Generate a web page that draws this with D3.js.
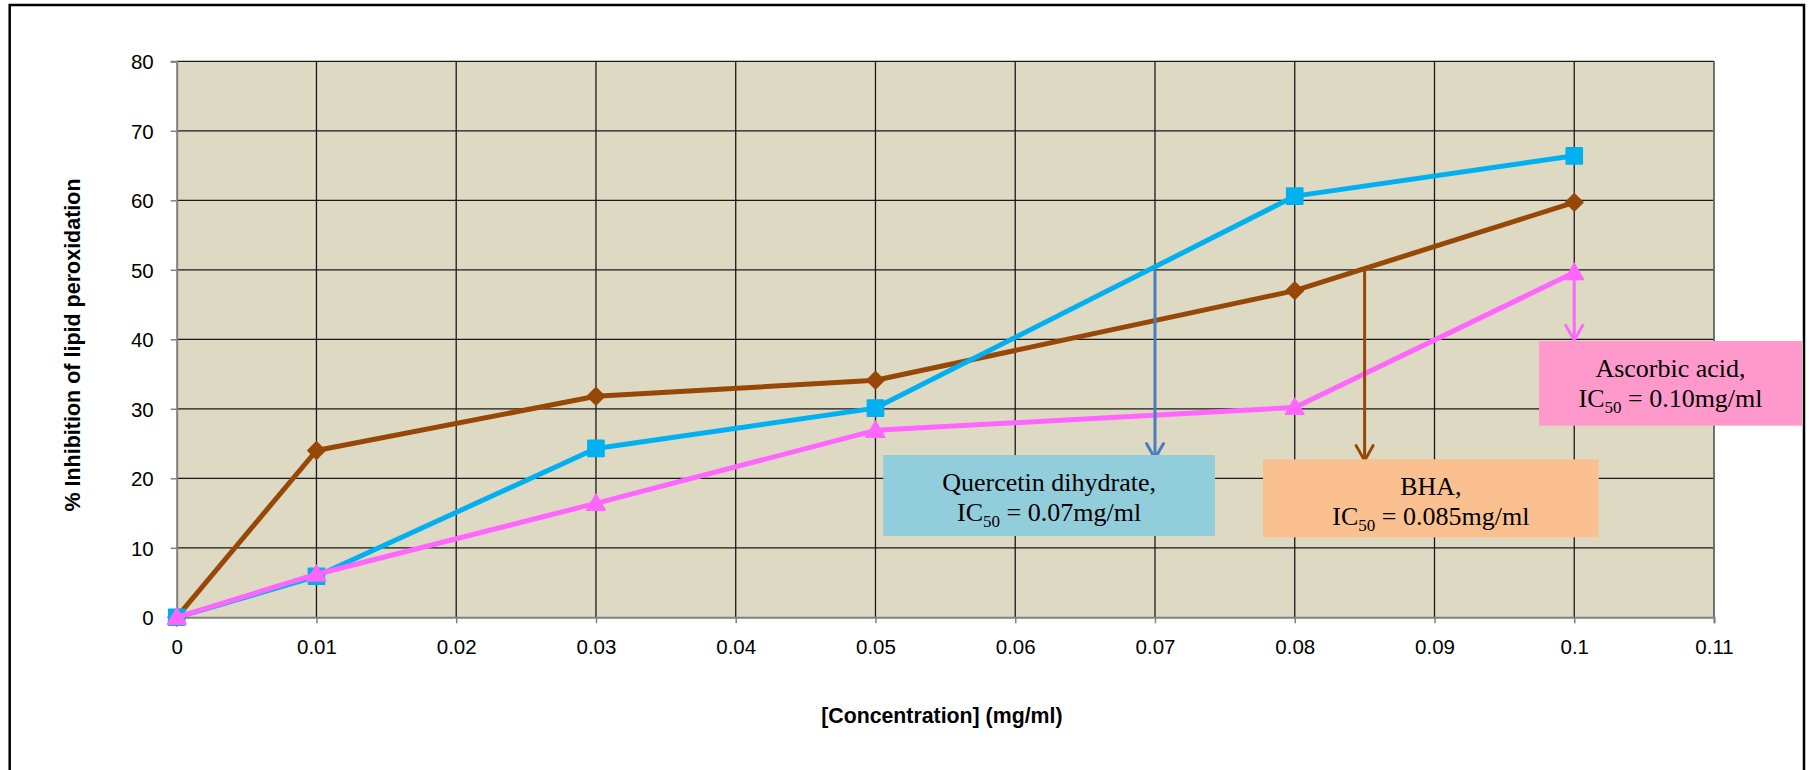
<!DOCTYPE html>
<html>
<head>
<meta charset="utf-8">
<script src="https://cdn.jsdelivr.net/npm/d3@7"></script>
<style>
  html, body { margin: 0; padding: 0; background: #ffffff; }
  svg { display: block; }
</style>
</head>
<body>
<svg id="chart" width="1811" height="770"></svg>
<script>
// Concentrations tested (mg/ml)
const concentration = [0, 0.01, 0.03, 0.05, 0.08, 0.1];

// % inhibition of lipid peroxidation for each compound
const bha       = [0, 24.0, 31.8, 34.1, 47.0, 59.7];
const quercetin = [0, 5.9, 24.3, 30.1, 60.6, 66.4];
const ascorbic  = [0, 6.2, 16.4, 26.9, 30.2, 49.6];

// Axis ticks
const xTicks = [0, 0.01, 0.02, 0.03, 0.04, 0.05, 0.06, 0.07, 0.08, 0.09, 0.1, 0.11];
const yTicks = [0, 10, 20, 30, 40, 50, 60, 70, 80];
const xTickLabels = ["0", "0.01", "0.02", "0.03", "0.04", "0.05", "0.06", "0.07", "0.08", "0.09", "0.1", "0.11"];

// IC50 read-offs: concentration, start (50 %) and arrow tip level
const ic50Conc  = [0.07, 0.085, 0.10];
const ic50From  = [50, 50, 49.6];
const ic50To    = [22.7, 22.4, 39.7];
const ic50Names = ["Quercetin dihydrate,", "BHA,", "Ascorbic acid,"];
const ic50Text  = ["0.07mg/ml", "0.085mg/ml", "0.10mg/ml"];

const svg = d3.select("#chart");

// Plot area
const plot = { left: 176.7, right: 1714, top: 61.3, bottom: 617.3 };
const x = d3.scaleLinear().domain([0, 0.11]).range([plot.left, plot.right]);
const y = d3.scaleLinear().domain([0, 80]).range([plot.bottom, plot.top]);

// Outer frame of the chart
svg.append("rect")
  .attr("x", 9.7).attr("y", 5)
  .attr("width", 1794.3).attr("height", 800)
  .attr("fill", "none").attr("stroke", "#000").attr("stroke-width", 2.5);

// Background
svg.append("rect")
  .attr("x", plot.left).attr("y", plot.top)
  .attr("width", plot.right - plot.left).attr("height", plot.bottom - plot.top)
  .attr("fill", "#ddd9c3");

// Grid lines
const grid = svg.append("g").attr("stroke", "#1a1a1a").attr("stroke-width", 1.3);
grid.selectAll("line.v").data(xTicks.slice(1)).join("line")
  .attr("x1", d => x(d)).attr("x2", d => x(d))
  .attr("y1", plot.top).attr("y2", plot.bottom);
grid.selectAll("line.h").data(yTicks.slice(1)).join("line")
  .attr("x1", plot.left).attr("x2", plot.right)
  .attr("y1", d => y(d)).attr("y2", d => y(d));

// Right edge of the plot area
svg.append("line")
  .attr("x1", plot.right).attr("x2", plot.right)
  .attr("y1", plot.top).attr("y2", plot.bottom)
  .attr("stroke", "#777").attr("stroke-width", 1.5);

// Axes
const xAxis = d3.axisBottom(x).tickValues(xTicks)
  .tickFormat((d, i) => xTickLabels[i]).tickSize(6).tickPadding(16);
const yAxis = d3.axisLeft(y).tickValues(yTicks)
  .tickFormat(d => d).tickSize(6).tickPadding(17);

const gx = svg.append("g").attr("transform", `translate(0,${plot.bottom})`).call(xAxis);
const gy = svg.append("g").attr("transform", `translate(${plot.left},0)`).call(yAxis);

[gx, gy].forEach(g => {
  g.select(".domain").attr("stroke", "#808080").attr("stroke-width", 2);
  g.selectAll(".tick line").attr("stroke", "#808080").attr("stroke-width", 1.5);
  g.selectAll(".tick text")
    .attr("fill", "#000")
    .style("font-family", "'Liberation Sans', Arial, sans-serif")
    .style("font-size", "20.5px");
});
gy.selectAll(".tick text").attr("dy", "0.36em");

// Axis titles
svg.append("text")
  .attr("x", (plot.left + plot.right) / 2 - 3.5)
  .attr("y", 723)
  .attr("text-anchor", "middle")
  .style("font-family", "'Liberation Sans', Arial, sans-serif")
  .style("font-weight", "bold")
  .style("font-size", "21.3px")
  .text("[Concentration] (mg/ml)");

svg.append("text")
  .attr("transform", `translate(80,345) rotate(-90)`)
  .attr("text-anchor", "middle")
  .style("font-family", "'Liberation Sans', Arial, sans-serif")
  .style("font-weight", "bold")
  .style("font-size", "21.5px")
  .text("% Inhibition of lipid peroxidation");

// Series
const series = [
  { name: "BHA", values: bha, color: "#974706", symbol: "diamond" },
  { name: "Quercetin dihydrate", values: quercetin, color: "#00b0f0", symbol: "square" },
  { name: "Ascorbic acid", values: ascorbic, color: "#ff66ff", symbol: "triangle" }
];

const line = d3.line().x(d => x(d[0])).y(d => y(d[1]));

const diamond = {
  draw(ctx, size) {
    const r = Math.sqrt(size / 2);
    ctx.moveTo(0, -r); ctx.lineTo(r, 0); ctx.lineTo(0, r); ctx.lineTo(-r, 0); ctx.closePath();
  }
};
const symbolFor = {
  diamond: d3.symbol().type(diamond).size(150),
  square: d3.symbol().type(d3.symbolSquare).size(260),
  triangle: d3.symbol().type(d3.symbolTriangle).size(150)
};

series.forEach(s => {
  const pts = concentration.map((c, i) => [c, s.values[i]]);
  const g = svg.append("g");
  g.append("path")
    .attr("d", line(pts))
    .attr("fill", "none")
    .attr("stroke", s.color)
    .attr("stroke-width", 5)
    .attr("stroke-linejoin", "round");
  g.selectAll("path.marker").data(pts).join("path")
    .attr("class", "marker")
    .attr("transform", d => `translate(${x(d[0])},${y(d[1]) + (s.symbol === "triangle" ? 1.5 : 0)})`)
    .attr("d", symbolFor[s.symbol]())
    .attr("fill", s.color)
    .attr("stroke", s.color)
    .attr("stroke-width", 1.5)
    .attr("stroke-linejoin", "round");
});

// IC50 drop arrows
const arrowColors = ["#4a7ebb", "#974706", "#ff66ff"];
ic50Conc.forEach((c, i) => {
  const ax = x(c), y0 = y(ic50From[i]), y1 = y(ic50To[i]);
  const g = svg.append("g")
    .attr("stroke", arrowColors[i]).attr("fill", "none")
    .attr("stroke-width", 3).attr("stroke-linecap", "round").attr("stroke-linejoin", "round");
  g.append("line").attr("x1", ax).attr("x2", ax).attr("y1", y0).attr("y2", y1 - 1);
  g.append("path").attr("d", `M${ax - 8.5},${y1 - 16} L${ax},${y1 - 1} L${ax + 8.5},${y1 - 16}`);
});

// IC50 label boxes
const boxes = [
  { x0: 883.3, x1: 1215,  top: 455,   h: 81,   fill: "#92cddc" },
  { x0: 1263,  x1: 1598.7, top: 459.3, h: 78,   fill: "#fac090" },
  { x0: 1539,  x1: 1802,  top: 341,   h: 84.7, fill: "#ff99cc" }
];
boxes.forEach((b, i) => {
  const g = svg.append("g");
  g.append("rect")
    .attr("x", b.x0).attr("y", b.top)
    .attr("width", b.x1 - b.x0).attr("height", b.h)
    .attr("fill", b.fill);
  const cx = (b.x0 + b.x1) / 2;
  const font = "'Liberation Serif', 'Times New Roman', serif";
  g.append("text")
    .attr("x", cx).attr("y", b.top + 36)
    .attr("text-anchor", "middle")
    .style("font-family", font).style("font-size", "26px")
    .text(ic50Names[i]);
  const t = g.append("text")
    .attr("x", cx).attr("y", b.top + 66)
    .attr("text-anchor", "middle")
    .style("font-family", font).style("font-size", "26px");
  t.append("tspan").text("IC");
  t.append("tspan").attr("dy", 6).style("font-size", "17px").text("50");
  t.append("tspan").attr("dy", -6).text(" = " + ic50Text[i]);
});
</script>
</body>
</html>
